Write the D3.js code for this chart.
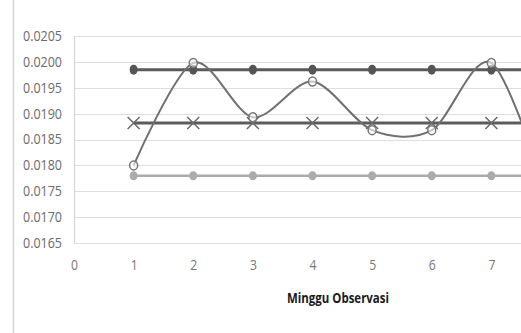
<!DOCTYPE html>
<html><head><meta charset="utf-8">
<script src="https://cdn.jsdelivr.net/npm/d3@7"></script>
<style>
html,body{margin:0;padding:0;background:#fff;}
svg{display:block;}
text{font-family:"Open Sans",sans-serif;}
</style></head>
<body>
<svg id="c" width="521" height="333"></svg>
<script>
const weeks = [1, 2, 3, 4, 5, 6, 7, 8];
const xTicks = [0, 1, 2, 3, 4, 5, 6, 7];
const yTicks = [0.0165, 0.0170, 0.0175, 0.0180, 0.0185, 0.0190, 0.0195, 0.0200, 0.0205];
const darkSeries = [0.01985, 0.01985, 0.01985, 0.01985, 0.01985, 0.01985, 0.01985, 0.01985];
const crossSeries = [0.01882, 0.01882, 0.01882, 0.01882, 0.01882, 0.01882, 0.01882, 0.01882];
const lightSeries = [0.0178, 0.0178, 0.0178, 0.0178, 0.0178, 0.0178, 0.0178, 0.0178];
const curveSeries = [0.01800, 0.01998, 0.01893, 0.01962, 0.01868, 0.01868, 0.01998, 0.01720];
const xTitle = "Minggu Observasi";

const svg = d3.select("#c");
const x = d3.scaleLinear().domain([0, 8]).range([74, 551]);
const y = d3.scaleLinear().domain([0.0165, 0.0205]).range([243, 36]);

svg.append("line").attr("x1", 13.5).attr("x2", 13.5).attr("y1", 0).attr("y2", 333)
  .attr("stroke", "#d4d4d4").attr("stroke-width", 1.5);

svg.append("g").selectAll("line").data(yTicks).join("line")
  .attr("x1", 74).attr("x2", 521)
  .attr("y1", d => Math.round(y(d)) + 0.5).attr("y2", d => Math.round(y(d)) + 0.5)
  .attr("stroke", "#dedede").attr("stroke-width", 1.2);
svg.append("line").attr("x1", 74.5).attr("x2", 74.5).attr("y1", y(0.0205)).attr("y2", y(0.0165))
  .attr("stroke", "#d6d6d6").attr("stroke-width", 1.2);

const yAxis = d3.axisLeft(y).tickValues(yTicks).tickFormat(d3.format(".4f")).tickSize(0).tickPadding(12);
const gy = svg.append("g").attr("transform", "translate(74,0)").call(yAxis);
gy.select(".domain").remove();
gy.selectAll("text").attr("fill", "#6b6b6b").style("font-size", "14px")
  .style("font-family", "'Open Sans',sans-serif")
  .attr("textLength", 39).attr("lengthAdjust", "spacingAndGlyphs");

const xAxis = d3.axisBottom(x).tickValues(xTicks).tickFormat(d3.format("d")).tickSize(0).tickPadding(17);
const gx = svg.append("g").attr("transform", "translate(0,243)").call(xAxis);
gx.select(".domain").remove();
gx.selectAll("text").attr("fill", "#777").style("font-size", "14px")
  .style("font-family", "'Open Sans',sans-serif")
  .attr("textLength", 7).attr("lengthAdjust", "spacingAndGlyphs");

svg.append("text").attr("x", 338).attr("y", 303).attr("text-anchor", "middle")
  .style("font-size", "15px").style("font-weight", "bold").attr("fill", "#1a1a1a")
  .attr("textLength", 102).attr("lengthAdjust", "spacingAndGlyphs").text(xTitle);

const straight = d3.line().x((d, i) => x(weeks[i])).y(d => y(d));
const smooth = d3.line().x((d, i) => x(weeks[i])).y(d => y(d)).curve(d3.curveCardinal.tension(0.1));

svg.append("path").datum(lightSeries).attr("d", straight).attr("fill", "none")
  .attr("stroke", "#ababab").attr("stroke-width", 2.5);
svg.append("g").selectAll("ellipse").data(lightSeries).join("ellipse")
  .attr("cx", (d, i) => x(weeks[i])).attr("cy", d => y(d)).attr("rx", 4).attr("ry", 4.5)
  .attr("fill", "#ababab");

svg.append("path").datum(crossSeries).attr("d", straight).attr("fill", "none")
  .attr("stroke", "#5c5c5c").attr("stroke-width", 3);

svg.append("path").datum(darkSeries).attr("d", straight).attr("fill", "none")
  .attr("stroke", "#5a5a5a").attr("stroke-width", 3);

svg.append("path").datum(curveSeries).attr("d", smooth).attr("fill", "none")
  .attr("stroke", "#707070").attr("stroke-width", 2);

svg.append("g").selectAll("ellipse").data(darkSeries).join("ellipse")
  .attr("cx", (d, i) => x(weeks[i])).attr("cy", d => y(d)).attr("rx", 4).attr("ry", 5)
  .attr("fill", "#555");

const cg = svg.append("g");
crossSeries.forEach((d, i) => {
  const cx = x(weeks[i]), cy = y(d);
  cg.append("path").attr("d", `M${cx-6},${cy-6}L${cx+6},${cy+6}M${cx-6},${cy+6}L${cx+6},${cy-6}`)
    .attr("stroke", "#6a6a6a").attr("stroke-width", 1.5).attr("fill", "none");
});

svg.append("g").selectAll("ellipse").data(curveSeries).join("ellipse")
  .attr("cx", (d, i) => x(weeks[i])).attr("cy", d => y(d)).attr("rx", 4).attr("ry", 4.5)
  .attr("fill", "#fff").attr("fill-opacity", 0.6).attr("stroke", "#777").attr("stroke-width", 1.5);
</script>
</body></html>
